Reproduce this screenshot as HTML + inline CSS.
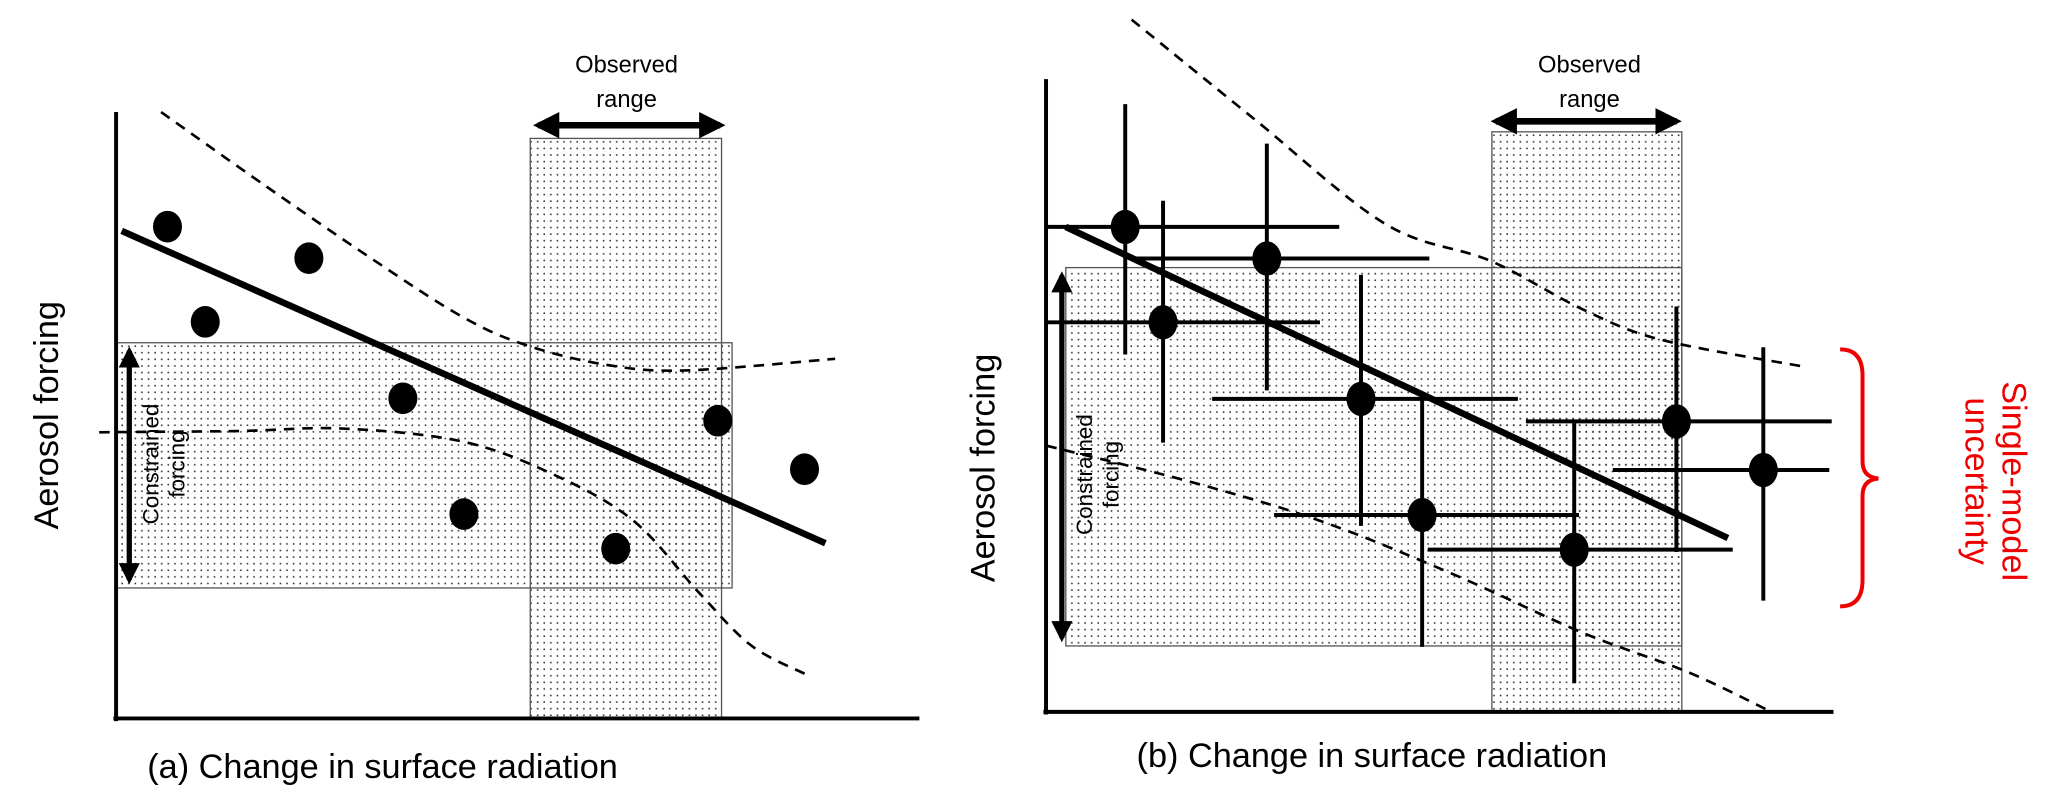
<!DOCTYPE html>
<html><head><meta charset="utf-8"><style>
html,body{margin:0;padding:0;background:#fff;width:2067px;height:787px;overflow:hidden}
svg{display:block}
text{font-family:"Liberation Sans",sans-serif}
</style></head><body>
<svg id="fig" width="2067" height="787" viewBox="0 0 1567 597" preserveAspectRatio="none" xmlns="http://www.w3.org/2000/svg">
<defs>
<pattern id="dots" width="5" height="5" patternUnits="userSpaceOnUse"><rect x="2" y="2" width="1.2" height="1.2" fill="#333"/></pattern>
<marker id="ah" viewBox="0 0 10 10" refX="8" refY="5" markerWidth="4" markerHeight="4" orient="auto-start-reverse"><path d="M0,0 L10,5 L0,10 z" fill="#000"/></marker>
</defs>
<!-- Panel a -->
<g>
<rect x="88" y="260" width="467" height="186" fill="url(#dots)" stroke="#555" stroke-width="1"/>
<rect x="402" y="105" width="145" height="440" fill="url(#dots)" stroke="#555" stroke-width="1"/>
<line x1="408" y1="95" x2="546" y2="95" stroke="#000" stroke-width="5" marker-start="url(#ah)" marker-end="url(#ah)"/>
<line x1="98" y1="266" x2="98" y2="440" stroke="#000" stroke-width="4" marker-start="url(#ah)" marker-end="url(#ah)"/>
<line x1="88" y1="85" x2="88" y2="547" stroke="#000" stroke-width="3"/>
<line x1="86" y1="545" x2="697" y2="545" stroke="#000" stroke-width="3"/>
<text x="475" y="55" font-size="18" text-anchor="middle">Observed</text>
<text x="475" y="81" font-size="18" text-anchor="middle">range</text>
<text transform="translate(120,352) rotate(-90)" font-size="17" text-anchor="middle"><tspan x="0" dy="0">Constrained</tspan><tspan x="0" dy="20">forcing</tspan></text>
<text transform="translate(44,315) rotate(-90)" font-size="26" text-anchor="middle">Aerosol forcing</text>
<text x="290" y="590" font-size="26" text-anchor="middle">(a) Change in surface radiation</text>
</g>
<!-- Panel b -->
<g>
<rect x="808" y="203" width="467" height="287" fill="url(#dots)" stroke="#555" stroke-width="1"/>
<rect x="1131" y="100" width="144" height="440" fill="url(#dots)" stroke="#555" stroke-width="1"/>
<line x1="1134" y1="92" x2="1271" y2="92" stroke="#000" stroke-width="5" marker-start="url(#ah)" marker-end="url(#ah)"/>
<line x1="805" y1="209" x2="805" y2="484" stroke="#000" stroke-width="4" marker-start="url(#ah)" marker-end="url(#ah)"/>
<line x1="793" y1="60" x2="793" y2="542" stroke="#000" stroke-width="3"/>
<line x1="791" y1="540" x2="1390" y2="540" stroke="#000" stroke-width="3"/>
<text x="1205" y="55" font-size="18" text-anchor="middle">Observed</text>
<text x="1205" y="81" font-size="18" text-anchor="middle">range</text>
<text transform="translate(828,360) rotate(-90)" font-size="17" text-anchor="middle"><tspan x="0" dy="0">Constrained</tspan><tspan x="0" dy="20">forcing</tspan></text>
<text transform="translate(754,355) rotate(-90)" font-size="26" text-anchor="middle">Aerosol forcing</text>
<text x="1040" y="582" font-size="26" text-anchor="middle">(b) Change in surface radiation</text>
<path d="M1395,265 Q1412,265 1412,285 L1412,350 Q1412,362 1424,363 Q1412,364 1412,376 L1412,440 Q1412,460 1395,460" fill="none" stroke="#e00" stroke-width="3"/>
<text transform="translate(1518,365) rotate(90)" font-size="26" fill="#e00" text-anchor="middle"><tspan x="0" dy="0">Single-model</tspan><tspan x="0" dy="28">uncertainty</tspan></text>
</g>
<g id="marks"></g>
</svg>
<script>
// shared model data (data units 0-100)
const modelX = [6.4, 11.1, 24.0, 35.7, 43.3, 62.2, 74.9, 85.7];
const modelY = [81.1, 65.4, 75.9, 52.8, 33.7, 28.0, 49.1, 41.1];
const xErrLeft = [9.8, 14.4, 16.7, 18.5, 18.4, 18.2, 18.7, 18.7];
const xErrRight = [26.6, 19.5, 20.2, 19.5, 19.5, 19.7, 19.3, 8.2];
const yErrUp = [20.2, 20.0, 18.9, 20.4, 19.1, 21.1, 18.9, 20.2];
const yErrDown = [21.0, 19.8, 21.7, 20.9, 21.7, 22.0, 21.5, 21.5];
const fitA = [[0.7, 80.4], [88.3, 28.9]];
const fitB = [[-1.0, 81.1], [81.3, 29.9]];
const upperA = [[5.6,100],[18.4,88],[31.5,76.1],[43,66.3],[51.2,61.5],[61.1,58.3],[70.9,57.4],[89.5,59.3]];
const lowerA = [[-2.1,47.2],[15.1,47.4],[28.2,47.8],[43,45.7],[54.5,40.2],[64.4,32.6],[72.6,20.7],[79.1,12],[86,7.2]];
const upperB = [[7.2,115.2],[22.3,99],[38.7,81.6],[51.8,75.5],[63.3,67.5],[73.1,62.5],[90.8,58.1]];
const lowerB = [[-3.4,45.1],[14.1,39.3],[30.5,32.8],[46.9,24.1],[63.3,14.3],[76.4,7.8],[86.7,1.3]];

const xa = v => 88 + v * 6.09, ya = v => 545 - v * 4.6;
const xb = v => 814 + v * 6.1, yb = v => 546 - v * 4.61;
const NS = 'http://www.w3.org/2000/svg';
const g = document.getElementById('marks');
function mk(tag, attrs) { const e = document.createElementNS(NS, tag); for (const k in attrs) e.setAttribute(k, attrs[k]); g.appendChild(e); return e; }
function curve(pts, fx, fy, name) {
  const P = pts.map(p => [fx(p[0]), fy(p[1])]);
  let d = 'M' + P[0][0].toFixed(1) + ',' + P[0][1].toFixed(1);
  for (let i = 0; i < P.length - 1; i++) {
    const p0 = P[Math.max(0, i - 1)], p1 = P[i], p2 = P[i + 1], p3 = P[Math.min(P.length - 1, i + 2)];
    const c1 = [p1[0] + (p2[0] - p0[0]) / 6, p1[1] + (p2[1] - p0[1]) / 6];
    const c2 = [p2[0] - (p3[0] - p1[0]) / 6, p2[1] - (p3[1] - p1[1]) / 6];
    d += ' C' + c1.map(v => v.toFixed(1)).join(',') + ' ' + c2.map(v => v.toFixed(1)).join(',') + ' ' + p2.map(v => v.toFixed(1)).join(',');
  }
  const e = mk('path', { d: d, fill: 'none', stroke: '#000', 'stroke-width': 2, 'stroke-dasharray': '8,6' });
  
  
}
curve(upperA, xa, ya, 'upper-bound-a');
curve(lowerA, xa, ya, 'lower-bound-a');
curve(upperB, xb, yb, 'upper-bound-b');
curve(lowerB, xb, yb, 'lower-bound-b');
for (let i = 0; i < modelX.length; i++) {
  const v = mk('line', { x1: xb(modelX[i]), x2: xb(modelX[i]), y1: yb(modelY[i] + yErrUp[i]), y2: yb(modelY[i] - yErrDown[i]), stroke: '#000', 'stroke-width': 3 });
  
  
  const h = mk('line', { x1: xb(modelX[i] - xErrLeft[i]), x2: xb(modelX[i] + xErrRight[i]), y1: yb(modelY[i]), y2: yb(modelY[i]), stroke: '#000', 'stroke-width': 3 });
  
  
}
const la = mk('line', { x1: xa(fitA[0][0]), y1: ya(fitA[0][1]), x2: xa(fitA[1][0]), y2: ya(fitA[1][1]), stroke: '#000', 'stroke-width': 5 });


const lb = mk('line', { x1: xb(fitB[0][0]), y1: yb(fitB[0][1]), x2: xb(fitB[1][0]), y2: yb(fitB[1][1]), stroke: '#000', 'stroke-width': 5 });


for (let i = 0; i < modelX.length; i++) {
  const a = mk('ellipse', { cx: xa(modelX[i]), cy: ya(modelY[i]), rx: 11, ry: 12, fill: '#000' });
  
  
  const b = mk('ellipse', { cx: xb(modelX[i]), cy: yb(modelY[i]), rx: 11, ry: 13, fill: '#000' });
  
  
}
</script>
</body></html>
